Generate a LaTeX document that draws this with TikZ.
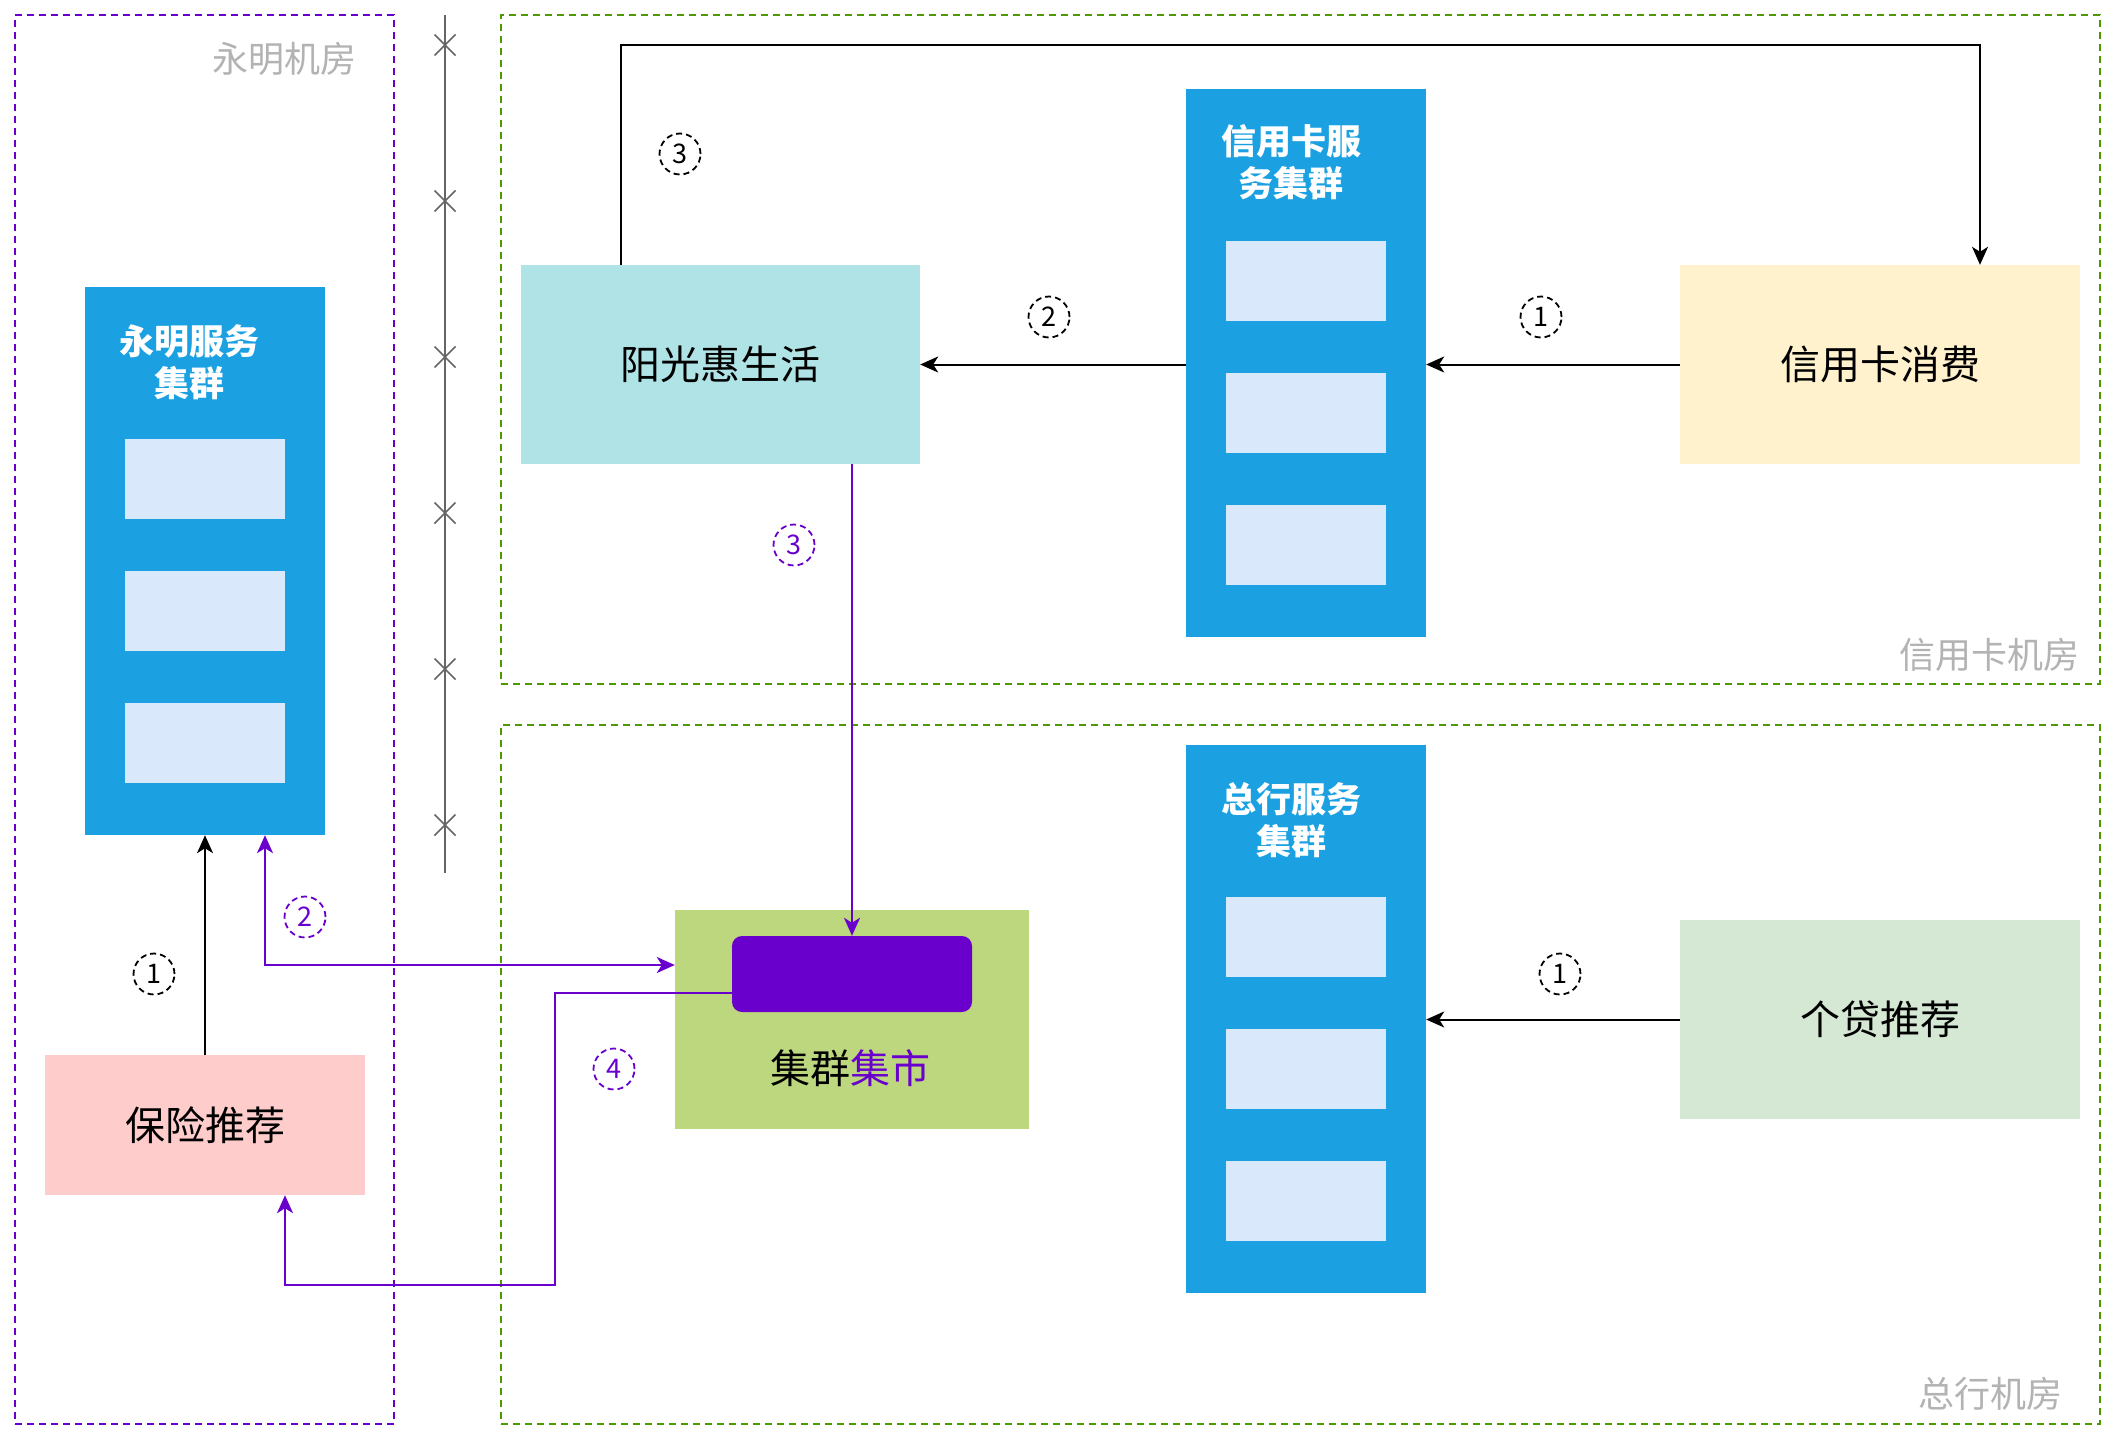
\documentclass[tikz,border=0pt]{standalone}
\usepackage{fontspec}
\setmainfont{Noto Sans CJK SC}
\usetikzlibrary{arrows.meta,calc}
\definecolor{cblue}{HTML}{1BA1E2}
\definecolor{clight}{HTML}{DAE8FC}
\definecolor{cpurple}{HTML}{6A00CC}
\definecolor{cgreen}{HTML}{4D9900}
\definecolor{cteal}{HTML}{B0E3E6}
\definecolor{cpink}{HTML}{FFCCCC}
\definecolor{cyellow}{HTML}{FFF2CC}
\definecolor{cmint}{HTML}{D5E8D4}
\definecolor{colive}{HTML}{BDD77E}
\definecolor{cgray}{HTML}{B3B3B3}
\definecolor{csep}{HTML}{666666}
\newcommand{\fmain}{\fontsize{40}{48}\selectfont}
\newcommand{\ftitle}{\fontsize{35}{42}\selectfont\bfseries}
\newcommand{\froom}{\fontsize{36}{42}\selectfont}
\newcommand{\fnum}{\fontsize{27}{27}\selectfont}
\begin{document}
\begin{tikzpicture}[x=1pt,y=-1pt,
  >={Stealth[length=18pt,width=16pt,inset=5pt]},
  room/.style={draw, line width=2pt, dash pattern=on 7pt off 5pt, inner sep=0pt, fill=none},
  roomlabel/.style={text=cgray, font=\froom, inner sep=0pt},
  cluster/.style={fill=cblue, draw=none, inner sep=0pt, minimum width=240pt, minimum height=548pt},
  slot/.style={fill=clight, draw=none, inner sep=0pt, minimum width=160pt, minimum height=80pt},
  ctitle/.style={text=white, font=\ftitle, align=center, inner sep=0pt},
  fillbox/.style={draw=none, inner sep=0pt, font=\fmain},
  conn/.style={line width=2pt, draw=black},
  pconn/.style={line width=2pt, draw=cpurple},
  num/.style={circle, draw=black, text=black, line width=1.8pt, dash pattern=on 6pt off 4pt, minimum size=41pt, inner sep=0pt, font=\fnum},
  pnum/.style={num, draw=cpurple, text=cpurple},
  sepx/.style={draw=csep, line width=1.6pt}
]
\useasboundingbox (0,0) rectangle (2116,1440);
\fill[white] (0,0) rectangle (2116,1440);

% rooms
\node[room, draw=cpurple, minimum width=379pt, minimum height=1409pt] (ymroom) at (204.5,719.5) {};
\node[room, draw=cgreen, minimum width=1599pt, minimum height=669pt] (xykroom) at (1300.5,349.5) {};
\node[room, draw=cgreen, minimum width=1599pt, minimum height=699pt] (zhroom) at (1300.5,1074.5) {};
\node[roomlabel] (ymlabel) at (284,59) {永明机房};
\node[roomlabel] (xyklabel) at (1989,655) {信用卡机房};
\node[roomlabel] (zhlabel) at (1990,1394) {总行机房};

% separator
\draw[draw=csep, line width=2pt] (445,15) -- (445,873);
\foreach \yy in {45,201,357,513,669,825}{
  \draw[sepx] (434.5,\yy-10.5) -- (455.5,\yy+10.5) (434.5,\yy+10.5) -- (455.5,\yy-10.5);
}

% clusters
\node[cluster] (ymc) at (205,561) {};
\node[cluster] (xykc) at (1306,363) {};
\node[cluster] (zhc) at (1306,1019) {};
\node[slot] (ym1) at (205,479) {};
\node[slot] (ym2) at (205,611) {};
\node[slot] (ym3) at (205,743) {};
\node[slot] (xyk1) at (1306,281) {};
\node[slot] (xyk2) at (1306,413) {};
\node[slot] (xyk3) at (1306,545) {};
\node[slot] (zh1) at (1306,937) {};
\node[slot] (zh2) at (1306,1069) {};
\node[slot] (zh3) at (1306,1201) {};
\node[ctitle] (ymt) at (189,362) {永明服务\\集群};
\node[ctitle] (xykt) at (1291,162) {信用卡服\\务集群};
\node[ctitle] (zht) at (1291,820) {总行服务\\集群};

% boxes
\node[fillbox, fill=cpink, minimum width=320pt, minimum height=140pt] (bx) at (205,1125) {保险推荐};
\node[fillbox, fill=cteal, minimum width=399pt, minimum height=199pt] (ygh) at (720.5,364.5) {阳光惠生活};
\node[fillbox, fill=cyellow, minimum width=400pt, minimum height=199pt] (xf) at (1880,364.5) {信用卡消费};
\node[fillbox, fill=cmint, minimum width=400pt, minimum height=199pt] (gd) at (1880,1019.5) {个贷推荐};
\node[fillbox, fill=colive, minimum width=354pt, minimum height=219pt] (js) at (852,1019.5) {};
\node[fillbox, fill=cpurple, rounded corners=10pt, minimum width=240pt, minimum height=76pt] (pr) at (852,974) {};
\node[font=\fmain, inner sep=0pt] (jslabel) at (850,1068) {集群\textcolor{cpurple}{集市}};

% connectors
\draw[conn,->] (xf.west) -- (xf.west -| xykc.east);
\draw[conn,->] (xykc.west |- ygh.east) -- (ygh.east);
\coordinate (t1) at (621,45);
\coordinate (t2) at (1980,45);
\draw[conn,->] (ygh.north -| t1) -- (t1) -- (t2) -- (xf.north -| t2);
\draw[pconn,->] (ygh.south -| pr.north) -- (pr.north);
\draw[conn,->] (gd.west) -- (gd.west -| zhc.east);
\draw[conn,->] (bx.north) -- (bx.north |- ymc.south);
\coordinate (p2) at (265,965);
\draw[pconn,<->] (ymc.south -| p2) -- (p2) -- (p2 -| js.west);
\coordinate (p4a) at (555,993);
\coordinate (p4b) at (555,1285);
\coordinate (p4c) at (285,1285);
\draw[pconn,->] (pr.west |- p4a) -- (p4a) -- (p4b) -- (p4c) -- (p4c |- bx.south);

% step numbers
\node[num] (n3a) at (680,154) {3};
\node[num] (n2a) at (1049,317) {2};
\node[num] (n1a) at (1541,317) {1};
\node[pnum] (n3b) at (794,545) {3};
\node[num] (n1b) at (1560,974) {1};
\node[num] (n1c) at (154,974) {1};
\node[pnum] (n2b) at (305,917) {2};
\node[pnum] (n4) at (614,1069) {4};
\end{tikzpicture}
\end{document}
